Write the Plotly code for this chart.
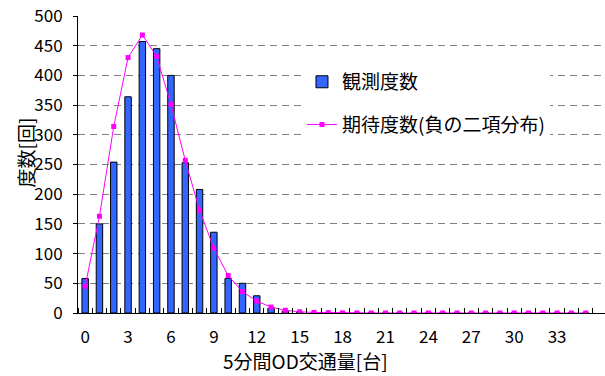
import plotly.graph_objects as go

# 5-minute OD traffic volume (vehicles) per interval
volume = list(range(36))

# observed frequency
observed = [58, 150, 254, 364, 457, 445, 400, 253, 208, 136, 58, 50, 29, 8, 3,
            1, 0, 0, 0, 0, 0, 0, 0, 0, 0, 0, 0, 0, 0, 0, 0, 0, 0, 0, 0, 0]

# expected frequency (negative binomial fit)
expected = [45, 163, 314, 430, 468, 432, 351, 257, 173, 109, 63, 36, 20, 10, 4.5,
            2, 1, 0.5, 0.2, 0.1, 0.05, 0, 0, 0, 0, 0, 0, 0, 0, 0, 0, 0, 0, 0, 0, 0]

x_ticks = list(range(0, 34, 3))
y_ticks = list(range(0, 501, 50))

FONT = "Noto Sans CJK JP, Noto Sans, sans-serif"

# plot-area geometry in pixels
W, H = 605, 376
L, R, T, B = 78, 0, 16, 63
PW, PH = W - L - R, H - T - B

fig = go.Figure()
fig.add_trace(go.Bar(
    x=volume, y=observed, name="観測度数",
    marker=dict(color="#3366FF", line=dict(color="black", width=1)),
    width=0.45, legendgroup="a",
))
fig.add_trace(go.Scatter(
    x=volume, y=expected, name="期待度数(負の二項分布)",
    mode="lines+markers",
    line=dict(color="#FF00FF", width=1),
    marker=dict(symbol="square", size=5, color="#FF00FF"),
    legendgroup="b",
))

fig.update_layout(
    width=W, height=H,
    margin=dict(l=L, r=R, t=T, b=B),
    paper_bgcolor="white", plot_bgcolor="white",
    font=dict(family=FONT, size=17, color="black"),
    showlegend=True,
    legend=dict(
        x=0.425, y=0.842, xanchor="left", yanchor="top",
        bgcolor="white", borderwidth=0,
        font=dict(size=19), traceorder="grouped", tracegroupgap=15,
    ),
    xaxis=dict(
        range=[-0.5, 36.35], tickmode="array", tickvals=x_ticks,
        ticks="", showgrid=False, zeroline=False,
        showline=True, linecolor="black", linewidth=1,
        tickfont=dict(size=17), ticklabelstandoff=9,
        minor=dict(ticks="inside", tick0=0.5, dtick=1, ticklen=5,
                   tickcolor="black", showgrid=False),
    ),
    yaxis=dict(
        range=[0, 500], tickmode="array", tickvals=y_ticks,
        ticks="outside", ticklen=4, tickcolor="black",
        showgrid=True, gridcolor="#808080", griddash="7px,5px", gridwidth=1,
        zeroline=False, showline=True, linecolor="black", linewidth=1,
        tickfont=dict(size=17), ticklabelstandoff=7,
    ),
    bargap=0.5,
)

# axis titles
fig.add_annotation(
    text="5分間OD交通量[台]", xref="paper", yref="paper",
    x=(305 - L) / PW, y=(T + PH - 360) / PH, xanchor="center", yanchor="middle",
    showarrow=False, font=dict(size=19),
)
fig.add_annotation(
    text="度数[回]", xref="paper", yref="paper", textangle=-90,
    x=(24.5 - L) / PW, y=(T + PH - 153) / PH, xanchor="center", yanchor="middle",
    showarrow=False, font=dict(size=19),
)

fig.write_html("out.html")
